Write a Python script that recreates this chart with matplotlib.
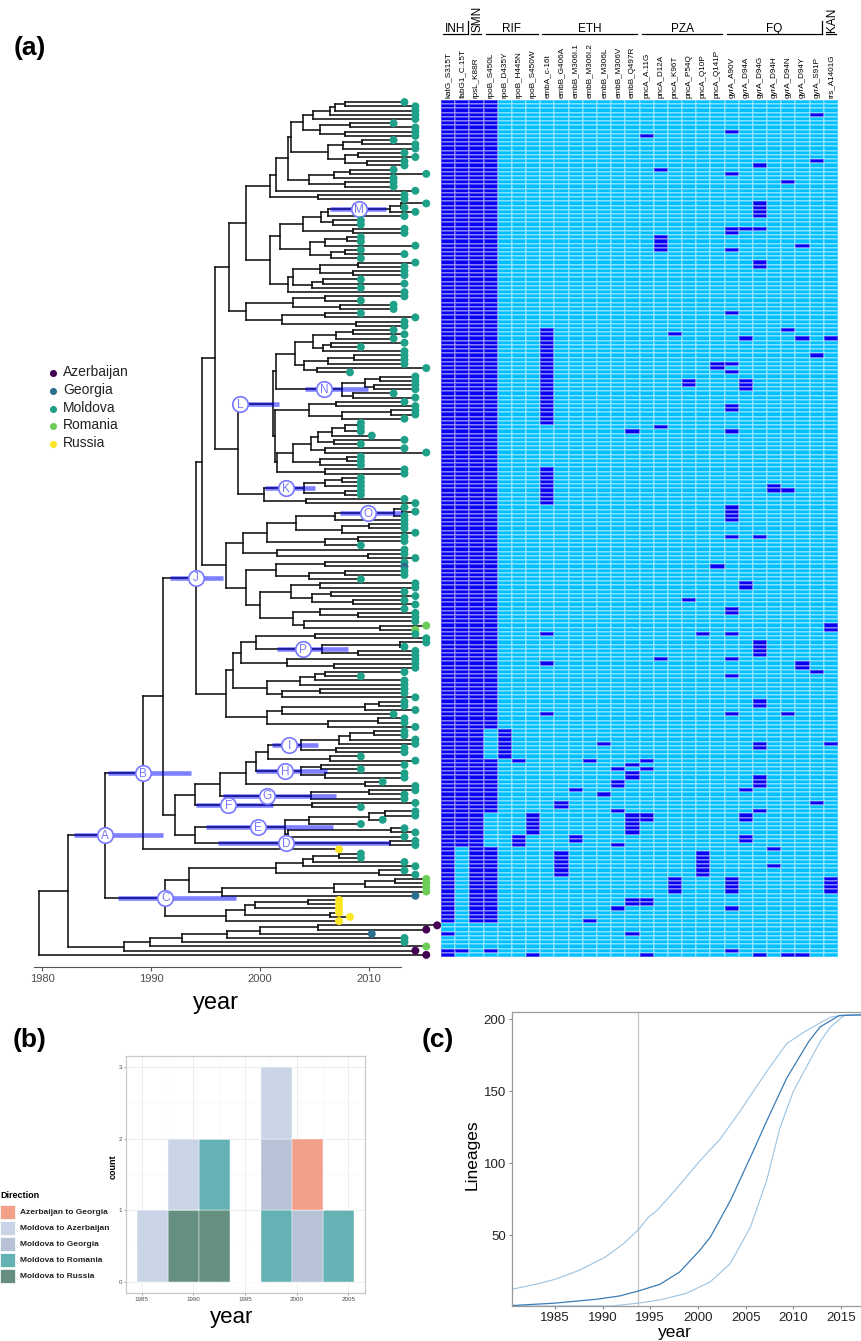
import re

import numpy as np
import matplotlib
matplotlib.use("Agg")
import matplotlib.pyplot as plt
from matplotlib.collections import LineCollection
from matplotlib.colors import ListedColormap
from matplotlib.patches import Rectangle

plt.rcParams["font.family"] = ["Liberation Sans", "DejaVu Sans"]

# ---------------------------------------------------------------- (a) tree
# newick pieces: a tip is country letter + sampling year (2 digits),
# an internal node carries an optional clade tag and its date
TOP_LADDER = "((((M13,M14)2007.8,M14)2006.9,M14)2006.4,M14)2004.9"
TOP_PAIRS = "((M12,M14)2008.3,(M14,M14)2007.8)2005.5"
TOP_MID = "(((M12,M14)2009.4,M14)2007.6,((M13,M14)2009.0,(M13,M13)2009.8)2007.8)2006.2"
TOP_LOW = "(((M12,M15)2008.3,M12)2006.8,(M12,M12)2007.8)2004.5"
CLADE_M = "((M15,M13)2012.9,M14)M2011.9"
Q_CLADE = "(((M09,M09)2008.0,M14)2006.0,((M09,M13)2007.8,M09)2006.5)2004.6"
N865 = "((((M14,M13)2009.0,(M13,M13)2008.5)2005.5,((M09,M13)2005.8,M09)2004.8)2003.0,M13)2002.6"
N736B = "(((M13,M09)2006.0,(M12,M12)2007.3)2003.0,((M09,M14)2006.0,(M13,M13)2008.8)2002.0)1998.7"

L_TOP1 = "(((M12,M13)2008.5,M12)2007.0,((M13,M09)2006.5,M13)2005.8)2004.9"
L_TOP2 = "(((M13,M13)2008.6,M13)2006.2,(M15,M08)2005.2)2004.0"
CLADE_N = "(((M14,M14)2011.0,(M14,M14)2010.5)2009.6,(M12,M14)2008.5)N2007.5"
L_TOP3 = "((M13,M14)2007.0,((M14,M14)2012.0,M13)2007.5)2004.5"
L_MID = "((((M09,M09)2009.0,M09)2007.8,M10)2006.6,(M13,M09)2006.8)2005.3"
CLADE_K = "(((M09,M09)2007.5,M09)2006.0,(M09,M09)2007.8)K2004.0"

CLADE_O = "((M13,M14)2013.0,M13)O2012.3"
O_SIB = "(M13,(M13,M14)2009.9)2001.6"
G_MIX = "((M13,G13)2006.0,((M13,M13)2007.8,M09)2004.5)2001.5"
RO_MIX = ("(((M14,M14)2005.5,((M13,M14)2006.5,(M13,M14)2008.5)2004.8)2002.8,"
          "((M13,(M14,M14)2009.0)2005.5,(M14,(R15,R14)2011.0)2004.0)2003.0)2000.0")

CLADE_P = "((M15,M13)2012.8,(M14,M14)2009.0)P2005.7"
P_SIB = "(M14,(M14,M14)2006.8)2002.5"
J_MID = "((((M13,M09)2006.0,M13)2005.0,M13)2003.7,((M13,M13)2005.5,M14)2002.0)2000.6"
J_LOW = "((((M13,M13)2010.9,M14)2009.6,M12)2002.0,((M13,M13)2010.8,M14)2006.2)2000.6"

CLADE_I = "((((M13,M13)2010.5,M14)2008.3,M14)2007.2,(M13,M13)2007.0)I2003.8"
CLADE_H = "((M13,M09)2005.6,(M13,M13)2006.0)H2003.8"
CLADE_G = "((M14,M13)2010.0,M13)G2004.7"
CLADE_F = "(M14,M09)F2004.8"
CLADE_E = "((((M14,M14)2011.5,M11)2010.0,M09)2004.5,((M13,M14)2012.0,M13)2002.6)E2002.3"
CLADE_D = "(M14,M14)D2011.9"

C_MOL = "((((M09,M09)2007.2,M13)2004.9,M14)2003.9,(M13,M14)2010.9)2001.5"
C_ROM = "((((R15,R15)2012.4,R15)2009.6,R15)2006.8,G14)1996.5"
C_RUS = "((((U07,U07)2004.4,U07)1999.5,(U07,U08)2006.4)1998.6,U07)1996.9"
BASAL = "((((((A16,A15)2005.3,G10)2000.0,M13)1997.0,M13)1992.8,R15)1989.9,A14)1987.5"

COUNTRIES = {"A": "Azerbaijan", "G": "Georgia", "M": "Moldova", "R": "Romania", "U": "Russia"}

# tag: (label position, 95% HPD low, high)
NODE_LABELS = {
    "A": (1985.8, 1982.9, 1991.1), "B": (1989.3, 1986.1, 1993.7),
    "C": (1991.3, 1987.0, 1997.8), "D": (2002.4, 1996.1, 2011.9),
    "E": (1999.8, 1995.0, 2006.7), "F": (1997.1, 1994.1, 2001.2),
    "G": (2000.6, 1996.6, 2007.0), "H": (2002.3, 1999.6, 2006.1),
    "I": (2002.7, 2001.1, 2005.3), "J": (1994.1, 1991.7, 1996.6),
    "K": (2002.4, 2000.5, 2005.0), "L": (1998.2, 1997.6, 2001.7),
    "M": (2009.1, 2006.4, 2011.6), "N": (2005.9, 2004.1, 2009.9),
    "O": (2009.9, 2007.3, 2013.0), "P": (2003.9, 2001.6, 2008.1),
}


def span(a, b):
    return list(range(a, b + 1))


GROUPS = [("INH", 0, 1), ("SMN", 2, 2), ("RIF", 3, 6), ("ETH", 7, 13),
          ("PZA", 14, 19), ("FQ", 20, 26), ("KAN", 27, 27)]
MUT_NAMES = ["katG_S315T", "fabG1_C.15T", "rpsL_K88R", "rpoB_S450L", "rpoB_D435Y",
             "rpoB_H445N", "rpoB_S450W", "embA_c-16t", "embB_G406A", "embB_M306I.1",
             "embB_M306I.2", "embB_M306L", "embB_M306V", "embB_Q497R", "pncA_A.11G",
             "pncA_D12A", "pncA_K96T", "pncA_P54Q", "pncA_Q10P", "pncA_Q141P",
             "gyrA_A90V", "gyrA_D94A", "gyrA_D94G", "gyrA_D94H", "gyrA_D94N",
             "gyrA_D94Y", "gyrA_S91P", "rrs_A1401G"]
# rows (tips, top to bottom) carrying each mutation
MUT_ROWS = [
    span(0, 194) + [197, 201, 202],
    span(0, 176) + [201],
    span(0, 194),
    span(0, 148) + span(156, 168) + span(177, 194) + [201],
    span(149, 155),
    [156, 174, 175, 176],
    span(169, 173) + [202],
    span(54, 76) + span(87, 95) + [126, 133, 145],
    [166, 167] + span(178, 183),
    [163, 174, 175],
    [156, 194],
    [152, 164],
    [158, 161, 162, 168, 176, 191],
    [78, 157, 159, 160] + span(169, 173) + [189, 190, 197],
    [8, 156, 158, 169, 170, 189, 190, 202],
    [16] + span(32, 35) + [77, 132],
    [55] + span(184, 187),
    [66, 67, 118],
    [126] + span(178, 183),
    [62, 63, 110],
    [7, 17, 30, 31, 35, 50, 62, 64, 72, 73, 78] + span(96, 99)
    + [103, 120, 121, 126, 132, 136, 145] + span(184, 187) + [191, 201],
    [30, 56, 66, 67, 68, 114, 115, 163, 169, 170, 174, 175],
    [15] + span(24, 27) + [30, 38, 39, 103] + span(128, 131)
    + [142, 143, 152, 153, 160, 161, 162, 168, 202],
    [91, 92, 177, 181],
    [19, 54, 92, 145, 202],
    [34, 56, 133, 134, 202],
    [3, 14, 60, 135, 166],
    [56, 124, 125, 152] + span(184, 187),
]

# ---------------------------------------------------------------- (b) histogram
BIN_MIDS = [1986, 1989, 1992, 1995, 1998, 2001, 2004]
DIRECTIONS = ["Azerbaijan to Georgia", "Moldova to Azerbaijan", "Moldova to Georgia",
              "Moldova to Romania", "Moldova to Russia"]
DIR_COUNTS = [
    [0, 0, 0, 0, 0, 1, 0],
    [1, 1, 0, 0, 1, 0, 0],
    [0, 0, 0, 0, 1, 1, 0],
    [0, 0, 1, 0, 1, 0, 1],
    [0, 1, 1, 0, 0, 0, 0],
]

# ---------------------------------------------------------------- (c) LTT
LTT_MED_X = [1980.5, 1985, 1989.4, 1991.8, 1993.75, 1996, 1998.1, 2000.2, 2001.3, 2003.4,
             2005.8, 2007.2, 2009.3, 2011.6, 2012.8, 2014.8, 2017.1]
LTT_MED_Y = [1.3, 3, 5.7, 8, 11.4, 16, 24.7, 39.7, 48.8, 74.1,
             108.5, 129.2, 159, 184.3, 194.6, 202.5, 203]
LTT_HI_X = [1980.5, 1983.4, 1985, 1987.6, 1990.3, 1992.2, 1993.75, 1994.8, 1995.7, 1998,
            2000.2, 2002.3, 2004.4, 2005.8, 2007.2, 2009.3, 2011.1, 2013.9, 2015.5, 2017.1]
LTT_HI_Y = [12.6, 16.7, 19.5, 25.9, 35, 44.3, 53.9, 62.6, 67.2, 84.4,
            101.7, 116.6, 136, 149.9, 163.6, 183, 191, 201.5, 203, 203]
LTT_LO_X = [1980.5, 1991.0, 1993.75, 1996, 1998.8, 2001.3, 2003.4, 2005.5, 2007.2, 2008.6,
            2010, 2012.8, 2013.9, 2015.3, 2017.1]
LTT_LO_Y = [1, 1, 3, 5.2, 9.8, 17.8, 30.5, 55.7, 87.9, 124.6,
            149.9, 184.3, 194.6, 202.5, 203]
ROOT_LINE = 1993.75

# ---------------------------------------------------------------- styles
COUNTRY_COLORS = {"A": "#440154", "G": "#2D708E", "M": "#1FA088", "R": "#6DCD59", "U": "#FDE725"}
DIR_COLORS = ["#F2A08A", "#C9D5E6", "#B7C2D6", "#65B2B4", "#648F81"]
LABEL_BLUE = "#7777FF"


def build_tree():
    n806 = (f"((((({TOP_LADDER},{TOP_PAIRS})2003.9,{TOP_MID})2002.8,{TOP_LOW})2002.6,"
            f"M14)2001.5,(M13,M13)2005.3)2000.9")
    n910 = f"((({CLADE_M},M13)2006.2,(M09,M09)2006.7)2005.6,(M13,M13)2008.5)2003.9"
    n810 = f"(({n910},{Q_CLADE})2001.8,{N865})2000.9"
    n690 = f"(({n806},{n810})1998.7,{N736B})1997.2"
    n838 = (f"((({L_MID},(M13,M15)2006.0)2004.7,((M09,M09)2008.0,M09)2005.5)2003.0,"
            f"(M13,M13)2006.0)2001.6")
    upper_l = (f"((({L_TOP1},{L_TOP2})2003.2,{CLADE_N})2001.5,"
               f"({L_TOP3},{n838})2001.4)L2001.2")
    lower_l = f"({CLADE_K},(M13,M14)2004.2)2000.4"
    clade_l = f"({upper_l},{lower_l})1998.0"
    n646 = f"({n690},{clade_l})1995.9"
    n812 = (f"((({CLADE_O},M13)2006.9,((M13,M13)2010.0,M14)2007.5)2003.3,"
            f"((M13,M13)2009.0,M09)2006.0)2000.6")
    n680b = f"(({n812},{O_SIB})1998.4,({G_MIX},{RO_MIX})1998.7)1996.9"
    n606 = f"({n646},{n680b})1994.7"
    n680j = f"(((((M14,M15)2005.0,{CLADE_P})1999.6,{P_SIB})1998.3,{J_MID})1997.5,{J_LOW})1996.9"
    clade_j = f"({n606},{n680j})J1994.1"
    n585 = (f"((((({CLADE_I},(M09,M14)2006.4)2000.7,{CLADE_H})1999.6,(M11,M14)2009.6)1998.7,"
            f"{CLADE_G})1996.3,{CLADE_F})1994.0")
    n525 = f"({n585},({CLADE_E},{CLADE_D})1994.0)1992.2"
    clade_b = f"(({clade_j},{n525})1991.1,U07)B1989.3"
    clade_c = f"(({C_MOL},{C_ROM})1993.5,{C_RUS})C1991.3"
    clade_a = f"({clade_b},{clade_c})A1985.8"
    return f"(({clade_a},{BASAL})1982.4,A15)1979.7"


def parse_newick(text):
    tokens = re.findall(r"[(),]|[A-Z]?[0-9.]+", text)
    pos = 0

    def node():
        nonlocal pos
        if tokens[pos] == "(":
            pos += 1
            kids = [node()]
            while tokens[pos] == ",":
                pos += 1
                kids.append(node())
            pos += 1
            label = tokens[pos]
            pos += 1
            tag = label[0] if label[0].isalpha() else None
            return {"children": kids, "year": float(label[1:] if tag else label), "tag": tag}
        code = tokens[pos]
        pos += 1
        return {"children": [], "year": 2000 + int(code[1:]) + 0.25, "country": code[0]}

    return node()


def layout(node, tips):
    if not node["children"]:
        node["y"] = len(tips)
        tips.append(node)
        return
    for child in node["children"]:
        layout(child, tips)
    node["y"] = np.mean([c["y"] for c in node["children"]])


def collect(node, segs, tagged):
    kids = node["children"]
    if not kids:
        return
    ys = [c["y"] for c in kids]
    segs.append([(node["year"], min(ys)), (node["year"], max(ys))])
    for c in kids:
        segs.append([(node["year"], c["y"]), (c["year"], c["y"])])
        collect(c, segs, tagged)
    if node.get("tag"):
        tagged.append(node)


W, H = 861, 1341
fig = plt.figure(figsize=(W / 100, H / 100), dpi=100)


def px_axes(left, top, right, bottom):
    return fig.add_axes([left / W, 1 - bottom / H, (right - left) / W, (bottom - top) / H])


# ---- tree
root = parse_newick(build_tree())
tips = []
layout(root, tips)
assert len(tips) == 203, len(tips)
segs, tagged = [], []
collect(root, segs, tagged)

ax_t = px_axes(30, 100, 440, 967)
ax_t.add_collection(LineCollection(segs, colors="#111111", linewidths=1.15, capstyle="projecting"))
for node in tagged:
    pos_x, lo, hi = NODE_LABELS[node["tag"]]
    ax_t.hlines(node["y"], lo, hi, color="#0000FF", alpha=0.5, lw=3.3, zorder=3)
for node in tagged:
    pos_x, lo, hi = NODE_LABELS[node["tag"]]
    ax_t.scatter(pos_x, node["y"], s=125, facecolor="white", edgecolor=LABEL_BLUE,
                 linewidth=1.2, zorder=4)
    ax_t.text(pos_x, node["y"] + 0.2, node["tag"], color=LABEL_BLUE, fontsize=8.5,
              ha="center", va="center", zorder=5)
ax_t.scatter([t["year"] for t in tips], [t["y"] for t in tips], s=33,
             c=[COUNTRY_COLORS[t["country"]] for t in tips], zorder=6, clip_on=False,
             linewidths=0)
ax_t.set_xlim(1978.9, 2016.51)
ax_t.set_ylim(204.87, -0.5)
for side in ["left", "right", "top"]:
    ax_t.spines[side].set_visible(False)
ax_t.spines["bottom"].set_bounds(1979.3, 2012.9)
ax_t.spines["bottom"].set_color("#555555")
ax_t.set_yticks([])
ax_t.set_xticks([1980, 1990, 2000, 2010])
ax_t.tick_params(axis="x", colors="#555555", labelsize=8, length=3, pad=2,
                 labelcolor="#4D4D4D")
ax_t.patch.set_visible(False)

# ---- heatmap
mat = np.zeros((len(tips), len(MUT_NAMES)))
for j, rows in enumerate(MUT_ROWS):
    mat[rows, j] = 1
ax_h = px_axes(441, 100, 838, 957)
ax_h.pcolormesh(np.arange(len(MUT_NAMES) + 1) - 0.5, np.arange(len(tips) + 1) - 0.5, mat,
                cmap=ListedColormap(["#00BFFF", "#0800F2"]), edgecolors=(1, 1, 1, 0.3),
                linewidth=0.3)
ax_h.set_xlim(-0.5, len(MUT_NAMES) - 0.5)
ax_h.set_ylim(len(tips) - 0.5, -0.5)
ax_h.axis("off")
for j, name in enumerate(MUT_NAMES):
    ax_h.text(j, -0.9, name, rotation=90, ha="center", va="bottom", fontsize=5.9,
              clip_on=False)
for name, c0, c1 in GROUPS:
    ax_h.plot([c0 - 0.35, c1 + 0.35], [-16.1, -16.1], color="black", lw=0.9, clip_on=False)
    if c0 == c1:
        ax_h.plot([c0 - 0.62, c0 - 0.62], [-19.2, -16.1], color="black", lw=0.9,
                  clip_on=False)
        ax_h.text(c0 + 0.05, -16.7, name, rotation=90, ha="center", va="bottom",
                  fontsize=8.5, clip_on=False)
    else:
        ax_h.text((c0 + c1) / 2, -17.3, name, ha="center", va="center", fontsize=8.5,
                  clip_on=False)

# ---- (b) migration histogram
ax_b = px_axes(126, 1056, 365, 1293)
bottom = np.zeros(len(BIN_MIDS))
for k in range(len(DIRECTIONS) - 1, -1, -1):
    ax_b.bar(BIN_MIDS, DIR_COUNTS[k], width=3, bottom=bottom, color=DIR_COLORS[k],
             edgecolor="white", linewidth=0.3, zorder=3)
    bottom += np.array(DIR_COUNTS[k])
ax_b.set_xlim(1983.48, 2006.6)
ax_b.set_ylim(-0.15, 3.15)
ax_b.set_xticks([1985, 1990, 1995, 2000, 2005])
ax_b.set_xticks([1987.5, 1992.5, 1997.5, 2002.5], minor=True)
ax_b.set_yticks([0, 1, 2, 3])
ax_b.set_yticks([0.5, 1.5, 2.5], minor=True)
ax_b.grid(which="major", color="#EBEBEB", lw=0.6, zorder=0)
ax_b.grid(which="minor", color="#F3F3F3", lw=0.35, zorder=0)
ax_b.set_axisbelow(True)
ax_b.tick_params(which="major", labelsize=4.5, labelcolor="#4D4D4D", color="#4D4D4D",
                 length=1.5, width=0.4, pad=1.5)
ax_b.tick_params(which="minor", length=0)
for sp in ax_b.spines.values():
    sp.set_color("#C8C8C8")
    sp.set_linewidth(0.9)

# ---- (c) lineages through time
ax_c = px_axes(512, 1012, 861, 1306)
ax_c.axvline(ROOT_LINE, color="#C4C4C4", lw=0.9)
ax_c.plot(LTT_HI_X, LTT_HI_Y, color="#9CC3E1", lw=0.8)
ax_c.plot(LTT_LO_X, LTT_LO_Y, color="#9CC3E1", lw=0.8)
ax_c.plot(LTT_MED_X, LTT_MED_Y, color="#3A7CB6", lw=0.9)
ax_c.set_xlim(1980.5, 2017.1)
ax_c.set_ylim(1, 205)
ax_c.set_xticks([1985, 1990, 1995, 2000, 2005, 2010, 2015])
ax_c.set_yticks([50, 100, 150, 200])
ax_c.tick_params(labelsize=9.5, labelcolor="#222222", color="#888888", length=2.5, pad=2)
ax_c.spines["right"].set_visible(False)
for side in ["left", "bottom", "top"]:
    ax_c.spines[side].set_color("#9A9A9A")
    ax_c.spines[side].set_linewidth(0.9)

# ---- overlay for panel letters, legends and axis titles (pixel coordinates)
ov = fig.add_axes([0, 0, 1, 1])
ov.set_xlim(0, W)
ov.set_ylim(H, 0)
ov.axis("off")
for letter, x, y in [("(a)", 30, 48), ("(b)", 30, 1040), ("(c)", 438, 1040)]:
    ov.text(x, y, letter, fontsize=19, fontweight="bold", ha="center", va="center")

for i, (code, name) in enumerate(COUNTRIES.items()):
    y = 373 + i * 17.8
    ov.scatter(53, y, s=26, color=COUNTRY_COLORS[code], linewidths=0)
    ov.text(63, y - 1, name, fontsize=10, va="center", color="#222222")
ov.text(216, 1003, "year", fontsize=17, ha="center", va="center")

ov.text(0, 1195, "Direction", fontsize=6.5, fontweight="bold", va="center")
for i, name in enumerate(DIRECTIONS):
    y = 1212 + i * 16
    ov.add_patch(Rectangle((0, y - 7), 14.5, 14, facecolor=DIR_COLORS[i],
                           edgecolor="white", lw=0.5))
    ov.text(20, y, name, fontsize=6, fontweight="bold", va="center", color="#222222")
ov.text(113, 1167, "count", fontsize=6.5, fontweight="bold", rotation=90,
        ha="center", va="center")
ov.text(232, 1317, "year", fontsize=16, ha="center", va="center")

ov.text(472, 1155, "Lineages", fontsize=12.5, rotation=90, ha="center", va="center")
ov.text(675, 1333, "year", fontsize=12.5, ha="center", va="center")

fig.savefig("out.png", dpi=100)
